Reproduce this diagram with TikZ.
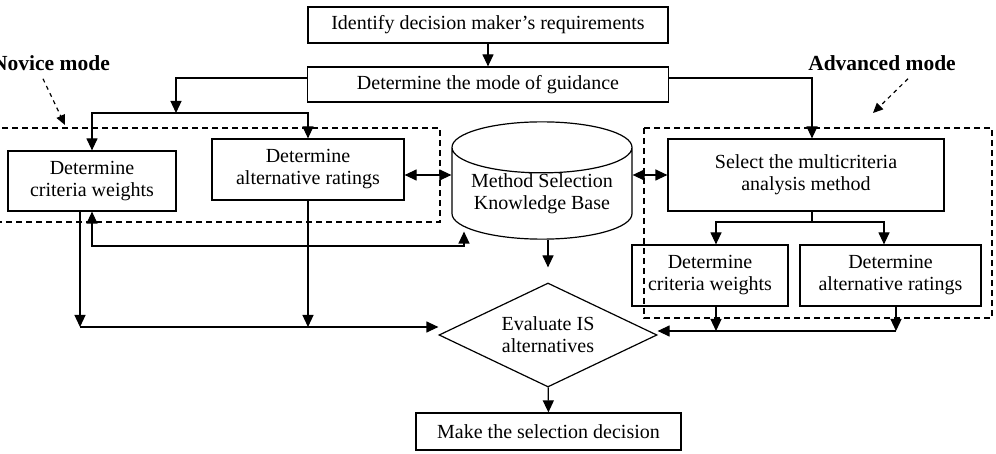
\documentclass[tikz,border=0pt]{standalone}
\usepackage{fontspec}
\setmainfont{Liberation Serif}
\usetikzlibrary{arrows.meta,shapes.geometric}

\begin{document}
\begin{tikzpicture}[x=1pt,y=-1pt,
  >={Triangle[length=12pt,width=11pt]},
  every node/.style={font=\fontsize{20}{22}\selectfont},
  stage/.style={draw,line width=1.2pt,align=center,inner sep=0pt},
  flow/.style={draw,line width=1.2pt},
  frame/.style={draw,line width=1.2pt,dash pattern=on 6pt off 4pt},
  modelabel/.style={font=\fontsize{21.5}{24}\selectfont\bfseries,inner sep=0pt},
  pointer/.style={draw,line width=1.2pt,dash pattern=on 4pt off 4pt,-{Triangle[length=10pt,width=9pt]}}]
  \useasboundingbox (0,0) rectangle (996,454);

  % stages
  \node[stage,minimum width=360pt,minimum height=36pt] (req) at (488,25) {Identify decision maker’s requirements};
  \node[stage,minimum width=361pt,minimum height=35pt] (mode) at (488,84.5) {Determine the mode of guidance};
  \node[stage,minimum width=168pt,minimum height=60pt] (nCrit) at (92,181) {Determine\\criteria weights};
  \node[stage,minimum width=192pt,minimum height=61pt] (nAlt) at (308,169.5) {Determine\\alternative ratings};
  \node[stage,cylinder,shape border rotate=90,aspect=0.36,minimum width=180pt,minimum height=107pt,anchor=shape center] (kb) at (542,180.5) {Method Selection\\Knowledge Base};
  \node[stage,minimum width=276pt,minimum height=72pt] (sel) at (806,175) {Select the multicriteria\\analysis method};
  \node[stage,minimum width=156pt,minimum height=61pt] (aCrit) at (710,275.5) {Determine\\criteria weights};
  \node[stage,minimum width=181pt,minimum height=61pt] (aAlt) at (890.5,275.5) {Determine\\alternative ratings};
  \node[stage,diamond,aspect=2.1,minimum width=218pt,minimum height=104pt] (dia) at (548,335) {Evaluate IS\\alternatives};
  \node[stage,minimum width=265pt,minimum height=37pt] (fin) at (548.5,431.5) {Make the selection decision};

  % mode frames
  \draw[frame] (-10,128) rectangle (440,222);
  \draw[frame] (644,128) rectangle (992,318);
  \node[modelabel] (novice) at (51,63) {Novice mode};
  \node[modelabel] (advanced) at (882,63) {Advanced mode};
  \coordinate (nTip) at (65,125);
  \coordinate (aTip) at (873,113);
  \draw[pointer] ([xshift=-8pt,yshift=-8pt]novice.south) -- (nTip);
  \draw[pointer] ([xshift=26pt,yshift=-8pt]advanced.south) -- (aTip);

  % connectors
  \coordinate (nFork) at (176,113);
  \coordinate (nJoin) at (80,327);
  \coordinate (kbLink) at (464,246);
  \coordinate (aFork) at (812,222);
  \coordinate (aJoin) at (896,331);

  \draw[flow,->] (req) -- (mode);
  \draw[flow,->] ([yshift=6.5pt]mode.west) -| (nFork);
  \draw[flow,->] (nFork) -| (nCrit.north);
  \draw[flow,->] (nFork) -| (nAlt.north);
  \draw[flow,->] ([yshift=6.5pt]mode.east) -| (aFork |- sel.north);
  \draw[flow,<->] (nAlt.east |- sel.west) -- (kb.west |- sel.west);
  \draw[flow,<->] (kb.east |- sel.west) -- (sel.west);
  \draw[flow,<->] (nCrit.south) |- (kbLink) -- (kbLink |- kb.210);
  \draw[flow,->,shorten >=15pt] (kb.south -| dia.north) -- (dia.north);
  \draw[flow] (sel.south -| aFork) -- (aFork);
  \draw[flow,->] (aFork) -| ([xshift=6pt]aCrit.north);
  \draw[flow,->] (aFork) -| ([xshift=-6.5pt]aAlt.north);
  \draw[flow,->] ([xshift=-12pt]nCrit.south) -- (nJoin);
  \draw[flow,->] (nAlt.south) -- (nAlt.south |- nJoin);
  \draw[flow,->] (nJoin) -- (dia.west |- nJoin);
  \draw[flow,->] ([xshift=6pt]aCrit.south) -- ([xshift=6pt]aCrit.south |- aJoin);
  \draw[flow,->] (aJoin |- aAlt.south) -- (aJoin);
  \draw[flow,->] (aJoin) -- (dia.east |- aJoin);
  \draw[flow,->] (dia) -- (fin);
\end{tikzpicture}
\end{document}
